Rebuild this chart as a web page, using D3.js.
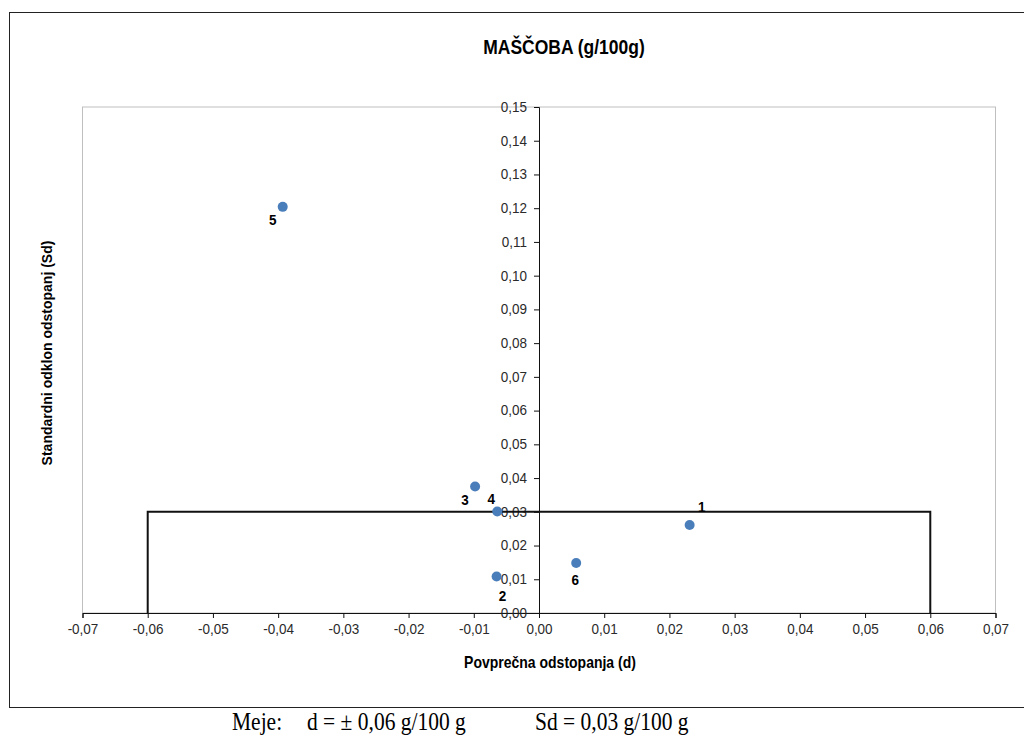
<!DOCTYPE html>
<html>
<head>
<meta charset="utf-8">
<script src="https://cdn.jsdelivr.net/npm/d3@7"></script>
<style>
  body { margin: 0; background: #fff; }
  text { font-family: Arial, "Liberation Sans", sans-serif; }
</style>
</head>
<body>
<script>
/*** data ***/
const labels = ["1", "2", "3", "4", "5", "6"];
const dValues = [0.0231, -0.0065, -0.0098, -0.0064, -0.0393, 0.0057];
const sdValues = [0.0261, 0.0108, 0.0375, 0.0301, 0.1204, 0.0148];
const labelSide = ["ne", "se", "sw", "nw", "sw", "s"];
const limitD = 0.06;
const limitSd = 0.03;
const xTicks = d3.range(-7, 8).map(i => i / 100);
const yTicks = d3.range(0, 16).map(i => i / 100);
const title = "MAŠČOBA (g/100g)";
const xTitle = "Povprečna odstopanja (d)";
const yTitle = "Standardni odklon odstopanj (Sd)";

/*** layout ***/
const width = 1024, height = 740;
const plot = { left: 82.5, right: 995.5, top: 107, bottom: 613 };
const sy = 1.15; // the source picture is a bit taller than wide, text looks stretched
const fmt = d3.format(".2f");
const comma = v => fmt(v).replace("−", "-").replace(".", ",").replace("-0,00", "0,00");

const x = d3.scaleLinear().domain([-0.07, 0.07]).range([plot.left, plot.right]);
const y = d3.scaleLinear().domain([0, 0.15]).range([plot.bottom, plot.top]);

const svg = d3.select("body").append("svg")
  .attr("width", width)
  .attr("height", height);

// place a text at (tx, ty) with the vertical stretch
const at = (tx, ty) => `translate(${tx},${ty}) scale(1,${sy})`;

// outer chart frame (right edge runs off the page)
svg.append("rect")
  .attr("x", 9.5).attr("y", 12.5)
  .attr("width", 1030).attr("height", 695)
  .attr("fill", "none")
  .attr("stroke", "#222");

// plot area border
svg.append("rect")
  .attr("x", plot.left).attr("y", plot.top)
  .attr("width", plot.right - plot.left).attr("height", plot.bottom - plot.top)
  .attr("fill", "none")
  .attr("stroke", "#bfbfbf");

svg.append("text")
  .attr("transform", at(564, 54))
  .attr("text-anchor", "middle")
  .attr("font-size", 17.5).attr("font-weight", "bold")
  .text(title);

/*** axes ***/
const xAxis = svg.append("g")
  .attr("transform", `translate(0,${y(0)})`)
  .call(d3.axisBottom(x).tickValues(xTicks).tickFormat(comma).tickSizeOuter(0).tickSize(5).tickPadding(4));

const yAxis = svg.append("g")
  .attr("transform", `translate(${x(0)},0)`)
  .call(d3.axisLeft(y).tickValues(yTicks).tickFormat(comma).tickSizeOuter(0).tickSize(5).tickPadding(7));

[xAxis, yAxis].forEach(g => {
  g.select(".domain").attr("stroke", "#111");
  g.selectAll(".tick line").attr("stroke", "#111");
  g.selectAll(".tick text")
    .attr("font-size", 13.5)
    .attr("fill", "#2a2a2a")
    .attr("transform", `scale(1,${sy})`)
    .attr("font-family", "Arial, 'Liberation Sans', sans-serif");
});
yAxis.selectAll(".tick text").attr("dy", "0.28em");

svg.append("text")
  .attr("transform", at(550, 668))
  .attr("text-anchor", "middle")
  .attr("font-size", 14).attr("font-weight", "bold")
  .text(xTitle);

svg.append("text")
  .attr("transform", `translate(52,353) rotate(-90)`)
  .attr("text-anchor", "middle")
  .attr("font-size", 14).attr("font-weight", "bold")
  .text(yTitle);

/*** limit box ***/
const limitLine = d3.line().x(d => x(d[0])).y(d => y(d[1]));
svg.append("path")
  .attr("d", limitLine([[-limitD, 0], [-limitD, limitSd], [limitD, limitSd], [limitD, 0]]))
  .attr("fill", "none")
  .attr("stroke", "#111")
  .attr("stroke-width", 2);

/*** points ***/
const pts = labels.map((l, i) => ({ label: l, d: dValues[i], sd: sdValues[i], side: labelSide[i] }));
const offsets = { ne: [12, -13], se: [6, 24], sw: [-10, 18], nw: [-6, -7], s: [-1, 22] };

svg.append("g")
  .selectAll("circle")
  .data(pts)
  .join("circle")
  .attr("cx", p => x(p.d))
  .attr("cy", p => y(p.sd))
  .attr("r", 5)
  .attr("fill", "#4a7ebb");

svg.append("g")
  .selectAll("text")
  .data(pts)
  .join("text")
  .attr("transform", p => at(x(p.d) + offsets[p.side][0], y(p.sd) + offsets[p.side][1]))
  .attr("text-anchor", "middle")
  .attr("font-size", 13.5).attr("font-weight", "bold")
  .text(p => p.label);

/*** limits note below the chart ***/
const note = svg.append("g").attr("font-size", 21.5);
note.append("text").attr("transform", at(232, 730)).style("font-family", "'Liberation Serif', serif").text("Meje:");
note.append("text").attr("transform", at(307, 730)).style("font-family", "'Liberation Serif', serif").text("d = ± 0,06 g/100 g");
note.append("text").attr("transform", at(535, 730)).style("font-family", "'Liberation Serif', serif").text("Sd = 0,03 g/100 g");
</script>
</body>
</html>
